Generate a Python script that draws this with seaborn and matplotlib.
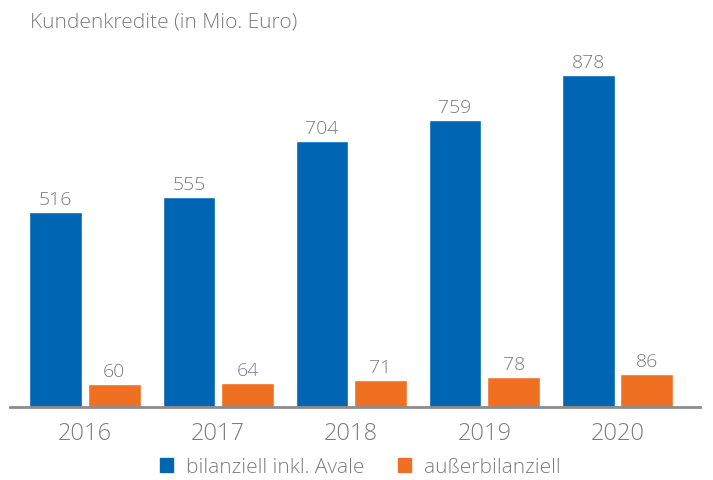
import matplotlib
matplotlib.use("Agg")
import matplotlib.pyplot as plt
import seaborn as sns
import pandas as pd
from matplotlib.patches import Patch

# Data
years = ["2016", "2017", "2018", "2019", "2020"]
bilanziell = [516, 555, 704, 759, 878]
ausserbilanziell = [60, 64, 71, 78, 86]
series_names = ["bilanziell inkl. Avale", "außerbilanziell"]

blue = "#0066b3"
orange = "#f07022"
grey = "#7c7c7c"

df = pd.DataFrame({
    "Jahr": years * 2,
    "Wert": bilanziell + ausserbilanziell,
    "Serie": [series_names[0]] * len(years) + [series_names[1]] * len(years),
})

sns.set_style("white")
plt.rcParams["font.family"] = ["Open Sans", "DejaVu Sans"]

fig = plt.figure(figsize=(7.13, 4.81), dpi=100)
ax = fig.add_axes([10 / 713, 73 / 481, 690 / 713, 368 / 481])

sns.barplot(data=df, x="Jahr", y="Wert", hue="Serie", palette=[blue, orange],
            width=0.88, gap=0.1, ax=ax, legend=False, saturation=1)

for cont in ax.containers:
    ax.bar_label(cont, padding=3, color=grey, fontsize=14, fontweight="light")

ax.set_xlim(-0.564, 4.62)
ax.set_ylim(0, 973)
ax.set_xlabel("")
ax.set_ylabel("")
ax.set_yticks([])
ax.tick_params(axis="x", length=0, labelsize=17, colors=grey, pad=10)
for lbl in ax.get_xticklabels():
    lbl.set_fontweight("light")
for s in ["top", "right", "left"]:
    ax.spines[s].set_visible(False)
ax.spines["bottom"].set_color("#8c8c8c")
ax.spines["bottom"].set_linewidth(2)

fig.text(30 / 713, 1 - 22 / 481, "Kundenkredite (in Mio. Euro)", color=grey,
         fontsize=15, fontweight="light", va="center", ha="left")

handles = [Patch(color=blue, label=series_names[0]),
           Patch(color=orange, label=series_names[1])]
leg = fig.legend(handles=handles, loc="center", bbox_to_anchor=(360 / 713, 1 - 468 / 481),
                 ncol=2, frameon=False, fontsize=15, handlelength=0.65, handleheight=0.65,
                 columnspacing=1.6, handletextpad=0.6)
for t in leg.get_texts():
    t.set_color(grey)
    t.set_fontweight("light")

fig.savefig("out.png", dpi=100)
